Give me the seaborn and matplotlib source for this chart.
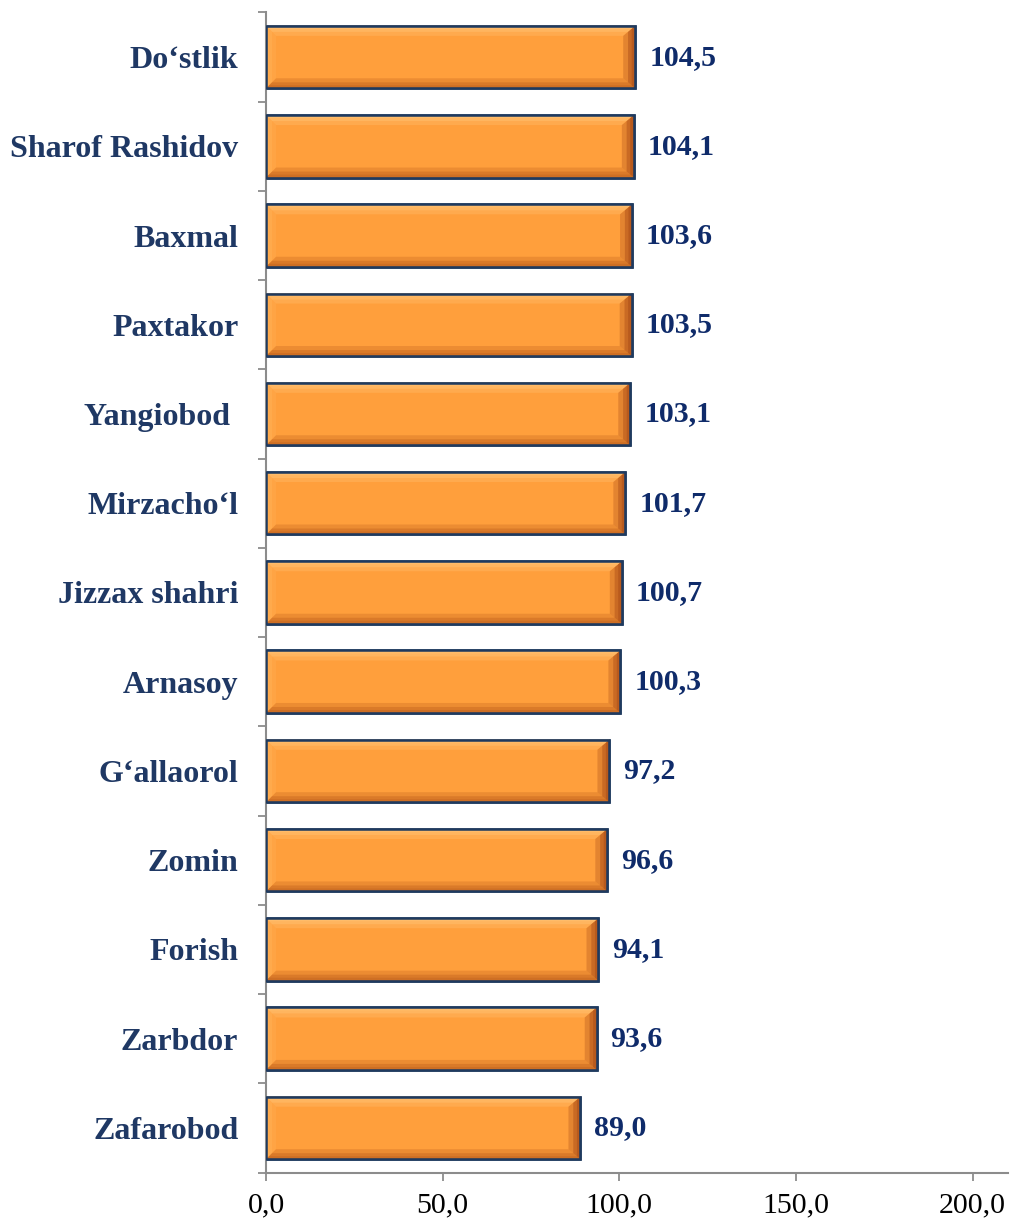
import numpy as np
import pandas as pd
import matplotlib
matplotlib.use("Agg")
import matplotlib.pyplot as plt
from matplotlib.patches import Polygon, Rectangle
import seaborn as sns

# data
districts = ["Do‘stlik", "Sharof Rashidov", "Baxmal", "Paxtakor", "Yangiobod ",
             "Mirzacho‘l", "Jizzax shahri", "Arnasoy", "G‘allaorol", "Zomin",
             "Forish", "Zarbdor", "Zafarobod"]
values = [104.5, 104.1, 103.6, 103.5, 103.1, 101.7, 100.7, 100.3, 97.2, 96.6, 94.1, 93.6, 89.0]
x_ticks = [0, 50, 100, 150, 200]
x_tick_labels = ["0,0", "50,0", "100,0", "150,0", "200,0"]

df = pd.DataFrame({"district": districts, "value": values})

sns.set_theme(style="white")
plt.rcParams["font.family"] = ["Liberation Serif", "DejaVu Serif"]

fig = plt.figure(figsize=(10.1, 12.2), dpi=100)
ax = fig.add_axes([0.2634, 0.0389, 0.7346, 0.9509])

edge = "#1F3A5F"
sns.barplot(data=df, x="value", y="district", orient="h", color="#FF9F3C",
            saturation=1, width=0.7, edgecolor=edge, linewidth=1.8, ax=ax)

ax.set_xlim(0, 210)
ax.set_ylim(len(districts) - 0.5, -0.5)

# bevel effect, sizes in pixels turned into data units
fig.canvas.draw()
bbox = ax.get_window_extent()
px_x = 210 / bbox.width
px_y = len(districts) / bbox.height
for p in list(ax.patches):
    x0, y0 = p.get_x(), p.get_y()
    x1, y1 = x0 + p.get_width(), y0 + p.get_height()
    # y axis is inverted: y0 is the top edge on screen
    # a few soft layers per side, from outer (strong) to inner (faint)
    for k, a in [(10, 0.35), (6, 0.5), (3, 0.65)]:
        bx, by, rx = k * px_x, k * px_y, k * 1.2 * px_x
        top = [(x0, y0), (x1, y0), (x1 - rx, y0 + by), (x0 + bx, y0 + by)]
        bot = [(x0, y1), (x1, y1), (x1 - rx, y1 - by), (x0 + bx, y1 - by)]
        left = [(x0, y0), (x0 + bx, y0 + by), (x0 + bx, y1 - by), (x0, y1)]
        right = [(x1, y0), (x1 - rx, y0 + by), (x1 - rx, y1 - by), (x1, y1)]
        for pts, col in [(top, "#FFC070"), (left, "#FFB055"), (bot, "#C96A22"), (right, "#B0521A")]:
            ax.add_patch(Polygon(pts, closed=True, facecolor=col, edgecolor="none",
                                 alpha=a, zorder=2.5))
    ax.add_patch(Rectangle((x0, y0), p.get_width(), p.get_height(), fill=False,
                           edgecolor=edge, linewidth=1.8, zorder=2.6))

ax.bar_label(ax.containers[0], labels=[f"{v:.1f}".replace(".", ",") for v in values],
             padding=10, fontsize=21.5, fontweight="bold", color="#0F2B6A")

ax.set_xticks(x_ticks, x_tick_labels)
ax.set_yticks(range(len(districts)), districts)
ax.set_yticks(np.arange(-0.5, len(districts), 1), minor=True)
ax.set_xlabel("")
ax.set_ylabel("")

grey = "#8C8C8C"
for s in ["top", "right"]:
    ax.spines[s].set_visible(False)
for s in ["left", "bottom"]:
    ax.spines[s].set_color(grey)
    ax.spines[s].set_linewidth(1.5)

ax.tick_params(axis="y", which="major", left=True, length=0, pad=20)
ax.tick_params(axis="y", which="minor", left=True, length=6, width=1.3, color=grey,
               direction="out")
ax.tick_params(axis="x", which="major", bottom=True, length=6, width=1.3, color=grey,
               direction="out", pad=8, labelsize=21.5, labelcolor="black")
for lab in ax.get_yticklabels():
    lab.set_fontsize(23)
    lab.set_fontweight("bold")
    lab.set_color("#1F3864")

fig.savefig("out.png", dpi=100)
